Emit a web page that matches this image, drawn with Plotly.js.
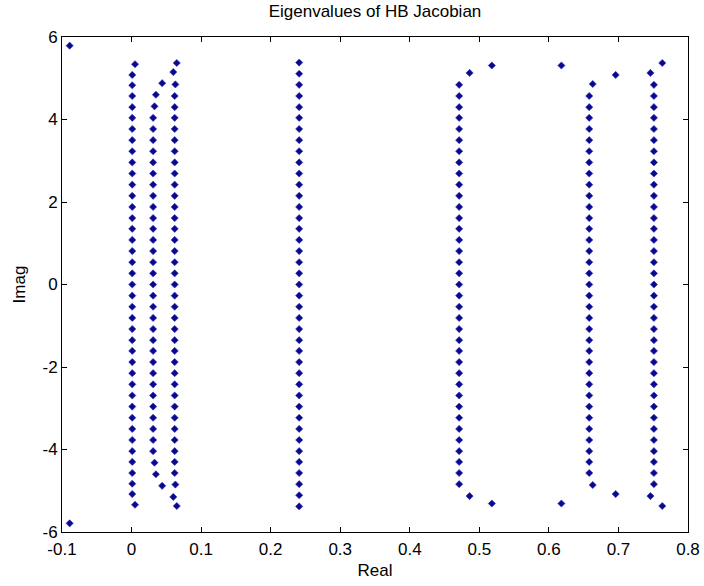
<!DOCTYPE html>
<html>
<head>
<meta charset="utf-8">
<script src="https://cdn.plot.ly/plotly-3.0.1.min.js"></script>
<style>html,body{margin:0;padding:0;background:#fff;}#chart{width:704px;height:586px;}</style>
</head>
<body>
<div id="chart"></div>
<script>
// Outlier pair
const colP_re = [-0.089, -0.089];
const colP_im = [5.79, -5.79];

// Column near Re = 0
const colA_re = [0.005,
  0.001,0.001,0.001,0.001,0.001,0.001,0.001,0.001,0.001,0.001,
  0.001,0.001,0.001,0.001,0.001,0.001,0.001,0.001,0.001,0.001,
  0.001,0.001,0.001,0.001,0.001,0.001,0.001,0.001,0.001,0.001,
  0.001,0.001,0.001,0.001,0.001,0.001,0.001,0.001,0.001,
  0.005];
const colA_im = [5.34, 5.08, 4.83, 4.57, 4.30, 4.04, 3.77, 3.50, 3.23, 2.96, 2.69, 2.42, 2.15, 1.88, 1.61, 1.35, 1.08, 0.81, 0.54, 0.27, 0,
  -0.27, -0.54, -0.81, -1.08, -1.35, -1.61, -1.88, -2.15, -2.42, -2.69, -2.96, -3.23, -3.50, -3.77, -4.04, -4.30, -4.57, -4.83, -5.08, -5.34];

// Column near Re = 0.03
const colB_re = [0.044, 0.035, 0.033,
  0.031,0.031,0.031,0.031,0.031,0.031,0.031,0.031,0.031,0.031,
  0.031,0.031,0.031,0.031,0.031,0.031,0.031,0.031,0.031,0.031,
  0.031,0.031,0.031,0.031,0.031,0.031,0.031,0.031,0.031,0.031,
  0.031,
  0.033, 0.035, 0.044];
const colB_im = [4.88, 4.60, 4.32, 4.04, 3.77, 3.50, 3.23, 2.96, 2.69, 2.42, 2.15, 1.88, 1.61, 1.35, 1.08, 0.81, 0.54, 0.27, 0,
  -0.27, -0.54, -0.81, -1.08, -1.35, -1.61, -1.88, -2.15, -2.42, -2.69, -2.96, -3.23, -3.50, -3.77, -4.04, -4.32, -4.60, -4.88];

// Column near Re = 0.063
const colC_re = [0.065, 0.060, 0.063,
  0.062,0.062,0.062,0.062,0.062,0.062,0.062,0.062,0.062,0.062,
  0.062,0.062,0.062,0.062,0.062,0.062,0.062,0.062,0.062,0.062,
  0.062,0.062,0.062,0.062,0.062,0.062,0.062,0.062,0.062,0.062,
  0.062,0.062,0.062,0.062,0.062,
  0.063, 0.060, 0.065];
const colC_im = [5.37, 5.15, 4.85, 4.57, 4.30, 4.04, 3.77, 3.50, 3.23, 2.96, 2.69, 2.42, 2.15, 1.88, 1.61, 1.35, 1.08, 0.81, 0.54, 0.27, 0,
  -0.27, -0.54, -0.81, -1.08, -1.35, -1.61, -1.88, -2.15, -2.42, -2.69, -2.96, -3.23, -3.50, -3.77, -4.04, -4.30, -4.57, -4.85, -5.15, -5.37];

// Column near Re = 0.24
const colM_re = [
  0.241,0.241,0.241,0.241,0.241,0.241,0.241,0.241,0.241,0.241,
  0.241,0.241,0.241,0.241,0.241,0.241,0.241,0.241,0.241,0.241,
  0.241,0.241,0.241,0.241,0.241,0.241,0.241,0.241,0.241,0.241,
  0.241,0.241,0.241,0.241,0.241,0.241,0.241,0.241,0.241,0.241,
  0.241];
const colM_im = [5.38, 5.11, 4.84, 4.57, 4.30, 4.04, 3.77, 3.50, 3.23, 2.96, 2.69, 2.42, 2.15, 1.88, 1.61, 1.35, 1.08, 0.81, 0.54, 0.27, 0,
  -0.27, -0.54, -0.81, -1.08, -1.35, -1.61, -1.88, -2.15, -2.42, -2.69, -2.96, -3.23, -3.50, -3.77, -4.04, -4.30, -4.57, -4.84, -5.11, -5.38];

// Column near Re = 0.47
const colD_re = [0.518, 0.486,
  0.471,0.471,0.471,0.471,0.471,0.471,0.471,0.471,0.471,0.471,
  0.471,0.471,0.471,0.471,0.471,0.471,0.471,0.471,0.471,0.471,
  0.471,0.471,0.471,0.471,0.471,0.471,0.471,0.471,0.471,0.471,
  0.471,0.471,0.471,0.471,0.471,0.471,0.471,
  0.486, 0.518];
const colD_im = [5.31, 5.13, 4.84, 4.57, 4.30, 4.04, 3.77, 3.50, 3.23, 2.96, 2.69, 2.42, 2.15, 1.88, 1.61, 1.35, 1.08, 0.81, 0.54, 0.27, 0,
  -0.27, -0.54, -0.81, -1.08, -1.35, -1.61, -1.88, -2.15, -2.42, -2.69, -2.96, -3.23, -3.50, -3.77, -4.04, -4.30, -4.57, -4.84, -5.13, -5.31];

// Column near Re = 0.66
const colE_re = [0.618, 0.696, 0.663,
  0.658,0.658,0.658,0.658,0.658,0.658,0.658,0.658,0.658,0.658,
  0.658,0.658,0.658,0.658,0.658,0.658,0.658,0.658,0.658,0.658,
  0.658,0.658,0.658,0.658,0.658,0.658,0.658,0.658,0.658,0.658,
  0.658,0.658,0.658,0.658,0.658,
  0.663, 0.696, 0.618];
const colE_im = [5.31, 5.08, 4.86, 4.57, 4.30, 4.04, 3.77, 3.50, 3.23, 2.96, 2.69, 2.42, 2.15, 1.88, 1.61, 1.35, 1.08, 0.81, 0.54, 0.27, 0,
  -0.27, -0.54, -0.81, -1.08, -1.35, -1.61, -1.88, -2.15, -2.42, -2.69, -2.96, -3.23, -3.50, -3.77, -4.04, -4.30, -4.57, -4.86, -5.08, -5.31];

// Column near Re = 0.75
const colF_re = [0.763, 0.746,
  0.751,0.751,0.751,0.751,0.751,0.751,0.751,0.751,0.751,0.751,
  0.751,0.751,0.751,0.751,0.751,0.751,0.751,0.751,0.751,0.751,
  0.751,0.751,0.751,0.751,0.751,0.751,0.751,0.751,0.751,0.751,
  0.751,0.751,0.751,0.751,0.751,0.751,0.751,
  0.746, 0.763];
const colF_im = [5.37, 5.13, 4.84, 4.57, 4.30, 4.04, 3.77, 3.50, 3.23, 2.96, 2.69, 2.42, 2.15, 1.88, 1.61, 1.35, 1.08, 0.81, 0.54, 0.27, 0,
  -0.27, -0.54, -0.81, -1.08, -1.35, -1.61, -1.88, -2.15, -2.42, -2.69, -2.96, -3.23, -3.50, -3.77, -4.04, -4.30, -4.57, -4.84, -5.13, -5.37];

// Axis ticks
const xTickVals = [-0.1, 0, 0.1, 0.2, 0.3, 0.4, 0.5, 0.6, 0.7, 0.8];
const xTickText = ['-0.1', '0', '0.1', '0.2', '0.3', '0.4', '0.5', '0.6', '0.7', '0.8'];
const yTickVals = [-6, -4, -2, 0, 2, 4, 6];
const yTickText = ['-6', '-4', '-2', '0', '2', '4', '6'];

const reAll = [].concat(colP_re, colA_re, colB_re, colC_re, colM_re, colD_re, colE_re, colF_re);
const imAll = [].concat(colP_im, colA_im, colB_im, colC_im, colM_im, colD_im, colE_im, colF_im);

const FONT = 'Liberation Sans, Arial, Helvetica, sans-serif';

const trace = {
  type: 'scatter',
  mode: 'markers',
  x: reAll,
  y: imAll,
  marker: {symbol: 'diamond', size: 5.5, color: '#0a0a88', line: {width: 0.6, color: '#2a2ac8'}},
  hoverinfo: 'x+y',
  showlegend: false
};

const axisCommon = {
  showgrid: false,
  zeroline: false,
  showline: true,
  linecolor: '#000',
  linewidth: 1,
  mirror: 'ticks',
  ticks: 'inside',
  ticklen: 5,
  tickwidth: 1,
  tickcolor: '#000',
  tickfont: {family: FONT, size: 17, color: '#000'}
};

const layout = {
  width: 704,
  height: 586,
  paper_bgcolor: '#fff',
  plot_bgcolor: '#fff',
  margin: {l: 62, r: 16, t: 37, b: 54, pad: 0},
  title: {
    text: 'Eigenvalues of HB Jacobian',
    font: {family: FONT, size: 17, color: '#000'},
    xref: 'paper', x: 0.5, xanchor: 'center',
    yref: 'container', y: 0.992, yanchor: 'top'
  },
  xaxis: Object.assign({}, axisCommon, {
    range: [-0.1, 0.8],
    tickmode: 'array',
    tickvals: xTickVals,
    ticktext: xTickText,
    ticklabelstandoff: 2,
    title: {text: 'Real', font: {family: FONT, size: 17, color: '#000'}, standoff: 5}
  }),
  yaxis: Object.assign({}, axisCommon, {
    range: [-6, 6],
    tickmode: 'array',
    tickvals: yTickVals,
    ticktext: yTickText,
    title: {text: 'Imag', font: {family: FONT, size: 17, color: '#000'}, standoff: 12}
  })
};

Plotly.newPlot('chart', [trace], layout, {displayModeBar: false, staticPlot: true});
</script>
</body>
</html>
